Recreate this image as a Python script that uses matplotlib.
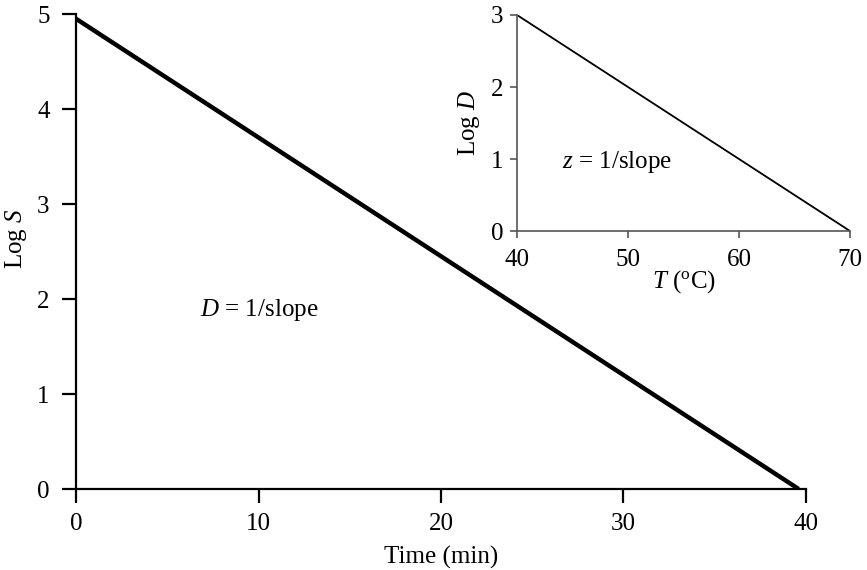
import matplotlib
matplotlib.use("Agg")
import matplotlib.pyplot as plt

plt.rcParams['font.family'] = ['Liberation Serif', 'DejaVu Serif']
plt.rcParams['mathtext.fontset'] = 'custom'
plt.rcParams['mathtext.it'] = 'Liberation Serif:italic'
plt.rcParams['mathtext.rm'] = 'Liberation Serif'

# Main chart data
time_min = [0, 39.6]
log_s = [4.95, 0]
main_xticks = [0, 10, 20, 30, 40]
main_yticks = [0, 1, 2, 3, 4, 5]

# Inset data
temp_c = [40, 70]
log_d = [3, 0]
inset_xticks = [40, 50, 60, 70]
inset_yticks = [0, 1, 2, 3]

FS = 18

fig = plt.figure(figsize=(8.67, 5.70), dpi=100)
ax = fig.add_axes([0.0877, 0.1421, 0.9296 - 0.0877, 0.9754 - 0.1421])
ax.plot(time_min, log_s, color='black', lw=3.2, solid_capstyle='butt')
ax.set_xlim(0, 40)
ax.set_ylim(0, 5)
ax.set_xticks(main_xticks)
ax.set_yticks(main_yticks)
for s in ['top', 'right']:
    ax.spines[s].set_visible(False)
for s in ['left', 'bottom']:
    ax.spines[s].set_linewidth(1.6)
ax.tick_params(direction='out', length=10, width=1.6, labelsize=FS)
ax.tick_params(axis='x', pad=7)
ax.tick_params(axis='y', pad=9)
ax.set_xlabel('Time (min)', fontsize=FS, labelpad=8)
ax.set_ylabel('Log $S$', fontsize=FS)
ax.yaxis.set_label_coords(-0.064, 0.526)
ax.text(6.8, 1.88, '$D$ = 1/slope', fontsize=FS, va='center', ha='left')

ins = fig.add_axes([0.5963, 0.5947, 0.9804 - 0.5963, 0.9737 - 0.5947])
ins.plot(temp_c, log_d, color='black', lw=1.3)
ins.set_xlim(40, 70)
ins.set_ylim(0, 3)
ins.set_xticks(inset_xticks)
ins.set_yticks(inset_yticks)
for s in ['top', 'right']:
    ins.spines[s].set_visible(False)
for s in ['left', 'bottom']:
    ins.spines[s].set_linewidth(1.2)
    ins.spines[s].set_color('#555555')
ins.tick_params(direction='out', length=5, width=1.2, color='#555555', labelsize=FS)
ins.tick_params(axis='x', pad=8)
ins.tick_params(axis='y', pad=5)
ins.set_xlabel('$T$ ($\\mathrm{^{o}}$C)', fontsize=FS, labelpad=-2)
ins.set_ylabel('Log $D$', fontsize=FS, labelpad=6)
ins.text(44.05, 0.96, '$z$ = 1/slope', fontsize=FS, va='center', ha='left')

fig.savefig('out.png', dpi=100)
